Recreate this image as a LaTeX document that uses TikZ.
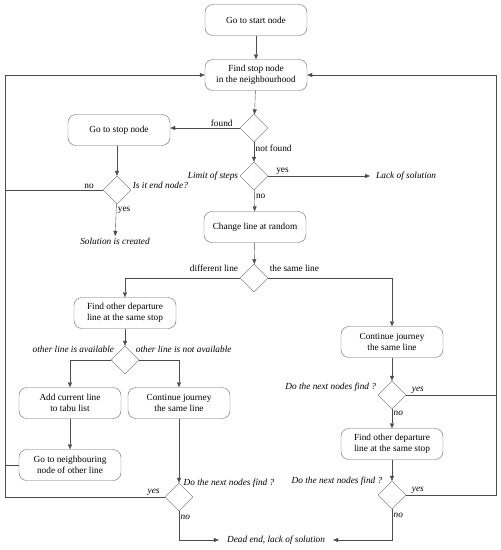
\documentclass[tikz,border=0pt]{standalone}
\usepackage{fontspec}
\setmainfont{Liberation Serif}
\usetikzlibrary{positioning,arrows.meta,shapes.geometric}

\begin{document}
\begin{tikzpicture}[
    x=1pt, y=-1pt,
    font=\fontsize{9.3}{11}\selectfont,
    box/.style={draw=black!60, rounded corners=8pt, minimum width=102pt, minimum height=31pt, align=center, inner sep=2pt},
    decision/.style={draw=black!60, diamond, minimum width=28pt, minimum height=28pt, inner sep=0pt},
    arrow/.style={-{Triangle[length=5pt,width=4pt]}, draw=black!70},
    line/.style={draw=black!70},
    note/.style={inner sep=1.5pt},
    cond/.style={inner sep=1.5pt, font=\fontsize{9.3}{11}\selectfont\itshape}
]
\useasboundingbox (0,0) rectangle (501,550);

% main column
\node[box] (start) at (256,20) {Go to start node};
\node[box] (find) at (256,75) {Find stop node\\in the neighbourhood};
\node[decision] (found) at (254,128) {};
\node[box] (gostop) at (119,130) {Go to stop node};
\node[decision] (limit) at (254,176) {};
\node[cond, inner xsep=6pt, anchor=west] (lack) at (370,176) {Lack of solution};
\node[decision] (isend) at (117,190) {};
\node[cond, anchor=north] (solved) at (115,236) {Solution is created};
\node[box] (change) at (255,227) {Change line at random};
\node[decision] (line) at (254,278) {};

% left branch
\node[box] (depleft) at (125,313) {Find other departure\\line at the same stop};
\node[decision] (avail) at (125,360) {};
\node[box] (tabu) at (70,403) {Add current line\\to tabu list};
\node[box] (contleft) at (179,403) {Continue journey\\the same line};
\node[box] (neigh) at (70,465) {Go to neighbouring\\node of other line};
\node[decision] (nextleft) at (179,497) {};
\node[cond, inner xsep=8pt] (dead) at (276,540) {Dead end, lack of solution};

% right branch
\node[box] (contright) at (392,342) {Continue journey\\the same line};
\node[decision] (nextup) at (392,395) {};
\node[box] (depright) at (392,444) {Find other departure\\line at the same stop};
\node[decision] (nextdown) at (392,495) {};

\coordinate (leftrail) at (5,0);
\coordinate (rightrail) at (496,0);

% connectors
\draw[arrow] (start) -- (find);
\draw[arrow] (find) -- (found);
\draw[arrow] (found.west) -- node[note, above, pos=0.26]{found} (found.west -| gostop.east);
\draw[arrow] (found) -- node[note, right, pos=0.3]{not found} (limit);
\draw[arrow] (limit) -- node[note, above, pos=0.14]{yes} (lack);
\draw[arrow] (limit) -- node[note, right, pos=0.3]{no} (change);
\draw[arrow] (gostop.south -| isend) -- (isend);
\draw[arrow] (isend) -- node[note, right, pos=0.2]{yes} (solved);
\draw[line] (isend.west) -- node[note, above, pos=0.14]{no} (isend.west -| leftrail);
\draw[arrow] (change) -- (line);
\draw[arrow] (line.west) -| (depleft.north);
\draw[arrow] (line.east) -| (contright.north);
\draw[arrow] (depleft) -- (avail);
\draw[arrow] (avail.west) -| (tabu.north);
\draw[arrow] (avail.east) -| (contleft.north);
\draw[arrow] (tabu) -- (neigh);
\draw[line] (neigh.west) -- (neigh.west -| leftrail);
\draw[arrow] (contleft) -- (nextleft);
\draw[arrow] (nextleft.west) -- node[cond, above, pos=0.07]{yes} (nextleft.west -| leftrail) |- (find.west);
\draw[arrow] (nextleft.south) |- node[cond, right, pos=0.1]{no} (dead.west);
\draw[arrow] (contright) -- (nextup);
\draw[line] (nextup.east) -- node[cond, above, pos=0.13]{yes} (nextup.east -| rightrail);
\draw[arrow] (nextup) -- node[cond, right, pos=0.2]{no} (depright);
\draw[arrow] (depright) -- (nextdown);
\draw[arrow] (nextdown.east) -- node[cond, above, pos=0.13]{yes} (nextdown.east -| rightrail) |- (find.east);
\draw[arrow] (nextdown.south) |- node[cond, right, pos=0.1]{no} (dead.east);

% condition texts
\node[cond, anchor=east] (limittxt) at (limit.west) {Limit of steps};
\node[cond, anchor=west] (isendtxt) at ([yshift=5pt]isend.east) {Is it end node?};
\node[note, anchor=east] (difftxt) at ([yshift=10pt]line.west) {different line};
\node[note, anchor=west] (sametxt) at ([yshift=10pt]line.east) {the same line};
\node[cond, anchor=east] (availtxt) at ([xshift=5pt, yshift=11pt]avail.west) {other line is available};
\node[cond, anchor=west] (notavailtxt) at ([xshift=-5pt, yshift=11pt]avail.east) {other line is not available};
\node[cond, anchor=west] (nextlefttxt) at ([xshift=3pt]nextleft.north) {Do the next nodes find ?};
\node[cond, anchor=east] (nextuptxt) at ([yshift=8pt]nextup.west) {Do the next nodes find ?};
\node[cond, anchor=east] (nextdowntxt) at ([xshift=-8pt]nextdown.north) {Do the next nodes find ?};
\end{tikzpicture}
\end{document}
